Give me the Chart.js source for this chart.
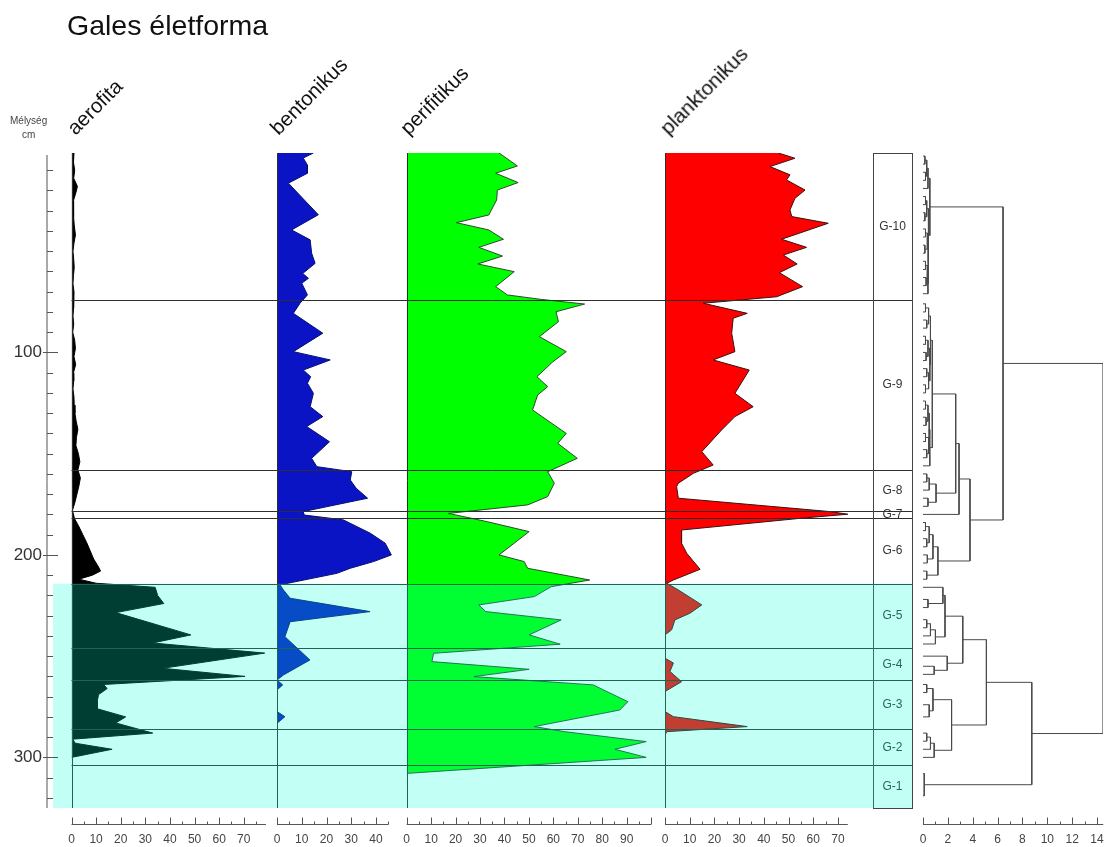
<!DOCTYPE html>
<html>
<head>
<meta charset="utf-8">
<title>Gales életforma</title>
<script src="https://cdn.jsdelivr.net/npm/chart.js@4.4.1/dist/chart.umd.min.js"></script>
<style>
  html, body { margin: 0; padding: 0; background: #fff; }
  #wrap { position: relative; width: 1107px; height: 847px; overflow: hidden;
          font-family: "Liberation Sans", Arial, sans-serif; }
  #chart { position: absolute; left: 0; top: 0; }
  .title { position: absolute; left: 67px; top: 11px; font-size: 28.5px; line-height: 1; color: #111; white-space: nowrap; }
  .hdr { position: absolute; font-size: 20.5px; line-height: 1; color: #111; white-space: nowrap;
         transform-origin: 0 100%; transform: rotate(-45deg); }
  .unit { position: absolute; font-size: 10px; line-height: 1; color: #444; white-space: nowrap; }
</style>
</head>
<body>
<div id="wrap">
  <canvas id="chart" width="1107" height="847"></canvas>
  <div class="title">Gales életforma</div>
  <div class="hdr" style="left:78px; top:118px;">aerofita</div>
  <div class="hdr" style="left:281px; top:118px;">bentonikus</div>
  <div class="hdr" style="left:411px; top:118px;">perifitikus</div>
  <div class="hdr" style="left:671px; top:118px;">planktonikus</div>
  <div class="unit" style="left:10px; top:116px;">Mélység</div>
  <div class="unit" style="left:22px; top:130px;">cm</div>
</div>

<script>
// ---- depth range (cm) ----
const depthMin = 1.5;
const depthMax = 325;

// ---- aerofita (%) ----
const aerofitaDepth = [1.5, 6, 10, 14, 18, 21, 25, 29, 33, 37, 42, 46, 50, 54, 58, 62, 66, 70, 74, 78, 82, 86, 90, 94, 98, 102, 106, 110, 114, 118, 122, 126, 130, 134, 138, 142, 146, 150, 154, 158, 162, 166, 170, 174, 178, 182, 186, 190, 194, 198, 202, 206, 208, 210, 212, 214, 216, 220, 224, 228.5, 239.5, 243.5, 248.5, 256, 260, 264, 266, 269, 272, 276, 280, 283, 288, 291, 293, 296, 300];
const aerofitaValue = [1.0, 0.8, 1.3, 0.9, 2.4, 1.8, 0.8, 1.0, 0.7, 1.1, 1.6, 1.0, 0.6, 0.9, 1.1, 0.8, 0.6, 1.0, 0.8, 0.9, 0.6, 0.9, 0.5, 1.3, 1.6, 1.0, 1.7, 0.8, 0.9, 0.6, 1.0, 1.1, 1.4, 1.9, 2.6, 2.0, 1.8, 2.8, 3.4, 2.6, 3.6, 3.0, 2.2, 1.4, 0.4, 1.2, 3.0, 4.6, 6.2, 7.6, 9.0, 11.0, 11.8, 8.5, 3.0, 10.0, 34, 35, 37.5, 18, 48.5, 33, 78.5, 37, 70.5, 13, 14.5, 11, 10.5, 10.5, 22, 18, 33, 0.5, 1.5, 16.5, 0];

// ---- bentonikus (%) ----
const bentonikusDepth = [1.5, 4, 7.5, 11.5, 16.4, 32, 39.5, 44.4, 51, 56, 61, 63.4, 65.8, 71.6, 75.7, 80.7, 90.5, 99.6, 103.7, 108.7, 112, 115.2, 120.2, 126.8, 131.7, 136.6, 144.1, 152.3, 156.4, 158.9, 163, 167.1, 172, 178.6, 180.3, 182.7, 189.3, 194.2, 200, 203.3, 206.6, 209.1, 214.8, 217.3, 221.4, 228, 233, 240.4, 251.9, 259.3, 261.8, 264.2, 266.7, 277.4, 279.9, 283.2, 307];
const bentonikusValue = [14.7, 10.6, 12.3, 12.3, 4.6, 16.7, 5.9, 13.4, 14, 15.4, 10.4, 12.7, 10, 12.3, 9.3, 6.6, 18.5, 6.6, 21.5, 10.6, 13.6, 12.3, 14.7, 13.4, 18.5, 12, 21.2, 14, 16.1, 30.2, 29.6, 32, 36.6, 10.6, 11, 26.8, 37.7, 43.7, 46.2, 39, 29.6, 24.2, 1.2, 2.6, 5.3, 37.6, 5.3, 3.2, 13.3, 2.6, 0, 2.3, 0, 0, 3.2, 0, 0];

// ---- perifitikus (%) ----
const perifitikusDepth = [1.5, 7.9, 11.5, 16.1, 19.8, 24.7, 32.1, 35.9, 39.5, 44.1, 48.1, 52.4, 56.3, 60.1, 67.5, 71.6, 73.8, 76.1, 79.9, 84.8, 92.2, 99.6, 104.6, 112, 116.9, 121, 128.4, 140, 144.9, 152.3, 158.9, 164.6, 171.2, 175.3, 179.5, 183.6, 188.5, 200, 203.3, 206.6, 212.4, 215.7, 220.6, 224.7, 228, 232.1, 239.5, 244.1, 248.6, 252.7, 256.5, 260.1, 264.2, 272.5, 276.6, 284.8, 287.3, 292.2, 296, 300, 307.9];
const perifitikusValue = [37.8, 45.3, 36.4, 45.6, 37.1, 36.8, 33.6, 20.3, 33.6, 39.6, 29.5, 39.2, 29.1, 44, 36.4, 41.2, 55, 72.8, 61.1, 62.1, 54.3, 65.3, 59.8, 53.3, 57.7, 53.6, 51.5, 65.3, 61.8, 69.8, 57.7, 60.4, 57.7, 49.5, 17.1, 33, 50.1, 37.8, 48.1, 49.5, 74.9, 59.1, 52.2, 29.5, 32.3, 63.2, 50.1, 62.8, 11, 10.3, 50.1, 27.5, 76.3, 90.5, 87.2, 52.2, 64.6, 98, 85.2, 98, 0];

// ---- planktonikus (%) ----
const planktonikusDepth = [1.5, 4.1, 8.2, 12.3, 14.8, 19.8, 23.9, 29.6, 32.9, 36.2, 44.1, 48.1, 51.9, 56.3, 60.6, 67.5, 72.5, 75.7, 80.7, 83.1, 90.5, 99.6, 103.7, 108.7, 120.2, 126.8, 131.7, 138.3, 149, 155.6, 159.7, 164.6, 166.3, 172, 178.6, 179.9, 181.9, 187.7, 194.2, 199.2, 207.1, 212.4, 214, 217.3, 224.7, 228.8, 232.1, 237, 239.5, 251, 253.4, 257.6, 262.6, 267.5, 277.4, 279.9, 284.8, 287.3, 289, 307];
const planktonikusValue = [45.9, 52.6, 42.5, 50.6, 49.2, 56.7, 52.6, 50.6, 51.3, 66.1, 47.2, 57.3, 47.9, 53.5, 46.3, 55.7, 45.2, 15.5, 33.3, 27.6, 27, 28.3, 19.5, 34.1, 28.3, 35.7, 28.3, 22.9, 14.9, 19.5, 11.5, 5.4, 4.7, 5.4, 66.8, 74, 55, 6.7, 6.7, 8.8, 14.2, 3.4, 0.7, 5.4, 14.9, 10.1, 4, 2.7, 0, 0, 3.4, 2, 6.7, 0, 0, 3.4, 33.3, 0.7, 0, 0];

// ---- zonation ----
const zoneNames = ['G-10', 'G-9', 'G-8', 'G-7', 'G-6', 'G-5', 'G-4', 'G-3', 'G-2', 'G-1'];
const zoneTops  = [1.5, 74, 158, 178.4, 182, 214.2, 246.2, 262, 286, 304];
const shadedFromDepth = 214.2;

// ---- cluster tree (CONISS): node -> [dissimilarity, child, child]; numbers are leaf depths ----
const clusterNodes = {
  t1: [0.15, 3, 7], t2: [0.2, 11, 15], t3: [0.3, 't1', 't2'], t4: [0.4, 't3', 19],
  t5: [0.2, 23, 27], t6: [0.15, 31, 35], t7: [0.3, 't5', 't6'],
  t8: [0.2, 39, 43], t9: [0.15, 47, 51], t10: [0.35, 't8', 't9'],
  t11: [0.2, 55, 59], t12: [0.25, 63, 67], t13: [0.35, 't11', 't12'], t14: [0.4, 't13', 71],
  t15: [0.42, 't10', 't14'], t16: [0.45, 't7', 't15'], A: [0.55, 't4', 't16'],
  u1: [0.2, 76, 80], u2: [0.3, 84, 88], u3: [0.45, 'u1', 'u2'],
  u4: [0.2, 92, 96], u5: [0.25, 100, 104], u6: [0.4, 'u4', 'u5'],
  u7: [0.3, 108, 112], u8: [0.2, 116, 120], u9: [0.45, 'u7', 'u8'],
  u10: [0.55, 'u6', 'u9'], u11: [0.6, 'u3', 'u10'],
  u12: [0.2, 124, 128], u13: [0.25, 132, 136], u14: [0.4, 'u12', 'u13'],
  u15: [0.2, 140, 144], u16: [0.3, 148, 152], u17: [0.45, 'u15', 'u16'],
  u18: [0.5, 'u14', 'u17'], u19: [0.55, 'u18', 156], B: [0.75, 'u11', 'u19'],
  g1: [0.3, 160, 164], g2: [0.5, 'g1', 168], g3: [0.4, 172, 176], G8: [1.05, 'g2', 'g3'],
  C: [2.63, 'B', 'G8'], D: [2.9, 'C', 180],
  s1: [0.2, 184, 188], s2: [0.3, 192, 196], s3: [0.5, 's1', 's2'], s4: [0.35, 200, 204],
  s5: [0.8, 's3', 's4'], s6: [0.3, 208, 212], G6: [1.2, 's5', 's6'],
  E: [3.78, 'D', 'G6'], F: [6.44, 'A', 'E'],
  k1: [0.4, 222, 226], k2: [1.6, 216, 'k1'], k3: [0.3, 232, 236], k4: [0.6, 'k3', 240],
  k5: [1.0, 'k4', 244], K: [1.77, 'k2', 'k5'],
  l1: [0.9, 255, 259], L: [1.95, 250, 'l1'], J: [3.2, 'K', 'L'],
  r1: [0.3, 264, 268], r2: [0.5, 274, 280], G3: [0.8, 'r1', 'r2'],
  v1: [0.3, 288, 292], v2: [0.6, 'v1', 296], G2: [0.9, 'v2', 300],
  M: [2.3, 'G3', 'G2'], I: [5.1, 'J', 'M'],
  G1: [0.1, 308, 319], H: [8.75, 'I', 'G1'],
  root: [14.5, 'F', 'H']
};

// ---- panel axes ----
const panels = [
  { id: 'xA', width: 205.5, max: 83.5,  labelMax: 70, axisEnd: 79,   step: 10 },
  { id: 'xB', width: 129.7, max: 52.4,  labelMax: 40, axisEnd: 45,   step: 10 },
  { id: 'xP', width: 258.3, max: 105.7, labelMax: 90, axisEnd: 100,  step: 10 },
  { id: 'xK', width: 208,   max: 84.2,  labelMax: 70, axisEnd: 74,   step: 10 },
  { id: 'xZ', width: 50,    max: 50,    labelMax: -1, axisEnd: null, step: 10 },
  { id: 'xD', width: 180,   max: 14.48, labelMax: 14, axisEnd: 14.5, step: 2 }
];
const zoneBoxWidth = 39;   // zone column width, in xZ units

// ---------------------------------------------------------------
const profile = (depths, values) => depths.map((d, i) => ({ x: values[i], y: d }));

function nodePos(key) {
  if (typeof key === 'number') return { h: 0, d: key };
  const n = clusterNodes[key];
  const a = nodePos(n[1]), b = nodePos(n[2]);
  return { h: n[0], d: (a.d + b.d) / 2 };
}
const clusterDatasets = Object.keys(clusterNodes).map(key => {
  const n = clusterNodes[key];
  const a = nodePos(n[1]), b = nodePos(n[2]);
  return {
    type: 'line', xAxisID: 'xD', yAxisID: 'y', fill: false,
    borderColor: '#4a4a4a', borderWidth: 1, pointRadius: 0, tension: 0,
    data: [{ x: a.h, y: a.d }, { x: n[0], y: a.d }, { x: n[0], y: b.d }, { x: b.h, y: b.d }]
  };
});

const areaSet = (label, axis, depths, values, fillColor, lineColor) => ({
  label, type: 'line', xAxisID: axis, yAxisID: 'y',
  data: profile(depths, values), fill: 'origin',
  backgroundColor: fillColor, borderColor: lineColor, borderWidth: 1,
  pointRadius: 0, tension: 0
});

const xScales = {};
panels.forEach(p => {
  xScales[p.id] = {
    type: 'linear', axis: 'x', position: 'bottom', stack: 'panels', stackWeight: p.width,
    min: 0, max: p.max,
    afterFit: s => { s.height = 39; s.paddingLeft = 0; s.paddingRight = 0; },
    grid: { display: false, drawTicks: false },
    border: { display: false },
    ticks: {
      stepSize: p.step, includeBounds: false, autoSkip: false, maxRotation: 0, padding: 24,
      color: '#444', font: { size: 12 },
      callback: v => (v <= p.labelMax + 1e-9 && Math.abs(v / p.step - Math.round(v / p.step)) < 1e-6) ? v : null
    }
  };
});

const stratPlugin = {
  id: 'strat',
  afterDatasetsDraw(chart) {
    const { ctx, chartArea, scales } = chart;
    const y = scales.y;
    const top = chartArea.top, bottom = chartArea.bottom;
    const x0 = scales.xA.getPixelForValue(0);
    const boxL = scales.xZ.getPixelForValue(0);
    const boxR = scales.xZ.getPixelForValue(zoneBoxWidth);
    const seg = (a, b, c, d) => { ctx.beginPath(); ctx.moveTo(a, b); ctx.lineTo(c, d); ctx.stroke(); };
    const snap = v => Math.round(v) + 0.5;

    ctx.save();
    ctx.lineWidth = 1;
    ctx.strokeStyle = '#2e2e2e';
    // zone boundaries across all panels
    zoneTops.slice(1).forEach(d => { const py = snap(y.getPixelForValue(d)); seg(x0, py, boxR, py); });
    // zero lines of the percentage panels
    ['xA', 'xB', 'xP', 'xK'].forEach(id => { const px = snap(scales[id].getPixelForValue(0)); seg(px, top, px, bottom); });
    // zone column
    ctx.strokeStyle = '#444';
    ctx.strokeRect(snap(boxL), snap(top), Math.round(boxR - boxL), Math.round(bottom - top));
    ctx.fillStyle = '#333';
    ctx.font = '12px "Liberation Sans", Arial, sans-serif';
    ctx.textAlign = 'center';
    ctx.textBaseline = 'middle';
    zoneNames.forEach((name, i) => {
      const d0 = zoneTops[i], d1 = i + 1 < zoneTops.length ? zoneTops[i + 1] : depthMax;
      ctx.fillText(name, (boxL + boxR) / 2, y.getPixelForValue((d0 + d1) / 2));
    });
    // shaded lower zones
    const sy = y.getPixelForValue(shadedFromDepth);
    ctx.fillStyle = 'rgba(0, 255, 208, 0.24)';
    ctx.fillRect(x0 - 18.5, sy, boxR - x0 + 18.5, bottom - sy);

    // depth axis
    ctx.strokeStyle = '#555';
    const ax = chartArea.left - 24.5;
    seg(ax, top + 2, ax, bottom);
    for (let d = 10; d <= depthMax; d += 10) {
      const py = snap(y.getPixelForValue(d));
      if (d % 100 === 0) seg(ax - 4, py, ax + 11, py); else seg(ax, py, ax + 6, py);
    }
    // bottom axes
    const ay = snap(bottom + 16);
    panels.forEach(p => {
      if (p.axisEnd === null) return;
      const s = scales[p.id];
      seg(s.getPixelForValue(0), ay, s.getPixelForValue(p.axisEnd), ay);
      const half = p.step / 2;
      for (let v = 0; v <= p.axisEnd + 1e-9; v += half) {
        const px = snap(s.getPixelForValue(v));
        const major = Math.abs(v / p.step - Math.round(v / p.step)) < 1e-6;
        seg(px, ay, px, ay - (major ? 7 : 3));
      }
    });
    ctx.restore();
  }
};

Chart.defaults.font.family = '"Liberation Sans", Arial, sans-serif';

new Chart(document.getElementById('chart'), {
  type: 'line',
  data: {
    datasets: [
      areaSet('aerofita', 'xA', aerofitaDepth, aerofitaValue, '#000000', '#000000'),
      areaSet('bentonikus', 'xB', bentonikusDepth, bentonikusValue, '#0a14c4', '#06106e'),
      areaSet('perifitikus', 'xP', perifitikusDepth, perifitikusValue, '#00ff00', '#2d4a2d'),
      areaSet('planktonikus', 'xK', planktonikusDepth, planktonikusValue, '#ff0000', '#3a1212'),
      ...clusterDatasets
    ]
  },
  options: {
    indexAxis: 'y',
    responsive: false,
    animation: false,
    devicePixelRatio: 1,
    layout: { padding: { top: 153, right: 4, left: 0, bottom: 0 } },
    plugins: { legend: { display: false }, tooltip: { enabled: false }, title: { display: false } },
    elements: { point: { radius: 0 } },
    scales: {
      y: {
        type: 'linear', position: 'left', reverse: true, min: depthMin, max: depthMax,
        afterFit: s => { s.width = 71.5; s.paddingTop = 0; s.paddingBottom = 0; },
        grid: { display: false, drawTicks: false },
        border: { display: false },
        ticks: {
          stepSize: 100, autoSkip: false, padding: 29.5, color: '#333', font: { size: 17 },
          callback: v => (v > 0 && v % 100 === 0) ? v : null
        }
      },
      ...xScales
    }
  },
  plugins: [stratPlugin]
});
</script>
</body>
</html>
